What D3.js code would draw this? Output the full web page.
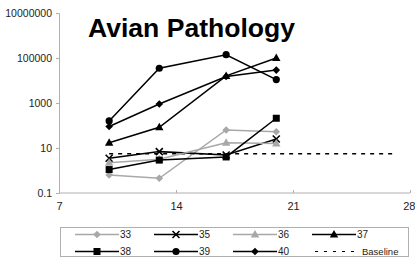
<!DOCTYPE html>
<html><head><meta charset="utf-8">
<script src="https://cdn.jsdelivr.net/npm/d3@7"></script>
<style>body{margin:0;background:#fff}svg{display:block}text{font-family:Arial,"Liberation Sans",sans-serif}</style>
</head><body>
<svg id="c" width="415" height="258"></svg>
<script>
const days = [10, 13, 17, 20];
const s33 = [0.63, 0.45, 63, 53];
const s35 = [3.5, 6.9, 4.9, 25];
const s36 = [2.2, 3.2, 17, 16];
const s37 = [17, 83, 16000, 100000];
const s38 = [1.1, 2.9, 4, 210];
const s39 = [160, 35000, 140000, 11000];
const s40 = [90, 900, 15000, 29000];
const baselineX = [10, 27];
const baselineY = [5.5, 5.5];
const xTicks = [7, 14, 21, 28];
const yTicks = [0.1, 10, 1000, 100000, 10000000];
const yTickLabels = ["0.1", "10", "1000", "100000", "10000000"];
const seriesNames = ["33", "35", "36", "37", "38", "39", "40"];
const title = "Avian Pathology";

const series = [
  {name:"33", vals:s33, color:"#a8a8a8", sym:"diamond"},
  {name:"35", vals:s35, color:"#000", sym:"x"},
  {name:"36", vals:s36, color:"#a8a8a8", sym:"triangle"},
  {name:"37", vals:s37, color:"#000", sym:"triangle"},
  {name:"38", vals:s38, color:"#000", sym:"square"},
  {name:"39", vals:s39, color:"#000", sym:"circle"},
  {name:"40", vals:s40, color:"#000", sym:"diamond"}
];

const svg = d3.select("#c");
const x = d3.scaleLinear().domain([7, 28]).range([59, 410]);
const y = d3.scaleLog().domain([0.1, 10000000]).range([193, 13]);

// axes
const xAxis = svg.append("g").attr("transform","translate(0,193)")
  .call(d3.axisBottom(x).tickValues(xTicks).tickSize(-3).tickPadding(9).tickFormat(d3.format("d")));
const yAxis = svg.append("g").attr("transform","translate(59,0)")
  .call(d3.axisLeft(y).tickValues(yTicks).tickSize(3).tickPadding(4).tickFormat((d,i)=>yTickLabels[i]));
[xAxis,yAxis].forEach(a=>{
  a.selectAll("path,line").attr("stroke","#b0b0b0");
  a.selectAll("text").attr("font-size","10.5px").attr("fill","#222");
});
xAxis.select(".domain").attr("d","M59,0H410");
xAxis.selectAll("text").attr("dy","0.71em").attr("font-size","11px");
xAxis.selectAll(".tick").filter(d=>d===28).select("text").attr("text-anchor","end").attr("x",5);

// title
svg.append("text").attr("x",88).attr("y",37).attr("font-size","25px").attr("font-weight","bold").attr("fill","#000")
  .attr("textLength",207).attr("lengthAdjust","spacingAndGlyphs").text(title);

function drawSym(g, sym, cx, cy, color, scale){
  scale = scale||1;
  if(sym==="circle") g.append("circle").attr("cx",cx).attr("cy",cy).attr("r",3.6*scale).attr("fill",color);
  else if(sym==="square") g.append("rect").attr("x",cx-3.5*scale).attr("y",cy-3.5*scale).attr("width",7*scale).attr("height",7*scale).attr("fill",color);
  else if(sym==="diamond") g.append("path").attr("d",`M${cx},${cy-3.8*scale}L${cx+3.8*scale},${cy}L${cx},${cy+3.8*scale}L${cx-3.8*scale},${cy}Z`).attr("fill",color);
  else if(sym==="triangle") g.append("path").attr("d",`M${cx},${cy-4.5*scale}L${cx+4.2*scale},${cy+3*scale}L${cx-4.2*scale},${cy+3*scale}Z`).attr("fill",color);
  else if(sym==="x") g.append("path").attr("d",`M${cx-3.5*scale},${cy-3.5*scale}L${cx+3.5*scale},${cy+3.5*scale}M${cx+3.5*scale},${cy-3.5*scale}L${cx-3.5*scale},${cy+3.5*scale}`).attr("stroke",color).attr("stroke-width",1.6).attr("fill","none");
}

// baseline
svg.append("path").attr("d", d3.line().x(d=>x(d[0])).y(d=>y(d[1]))(baselineX.map((d,i)=>[d,baselineY[i]])))
  .attr("stroke","#000").attr("stroke-width",1.5).attr("stroke-dasharray","4,5").attr("fill","none");

const line = d3.line().x(d=>x(d[0])).y(d=>y(d[1]));
series.forEach(s=>{
  const g = svg.append("g");
  const pts = days.map((d,i)=>[d,s.vals[i]]);
  g.append("path").attr("d",line(pts)).attr("stroke",s.color).attr("stroke-width",1.5).attr("fill","none");
  pts.forEach(p=>drawSym(g, s.sym, x(p[0]), y(p[1]), s.color));
});

// legend
svg.append("rect").attr("x",60.5).attr("y",227.5).attr("width",348).attr("height",29).attr("fill","none").attr("stroke","#b0b0b0");
const legItems = series.map(s=>({name:s.name,color:s.color,sym:s.sym})).concat([{name:"Baseline",color:"#000",sym:"dash"}]);
legItems.forEach((it,i)=>{
  const col=i%4, row=Math.floor(i/4);
  const lx = 75 + col*79, ly = row===0?234.5:251.5;
  const g = svg.append("g");
  if(it.sym==="dash"){
    g.append("line").attr("x1",lx+3).attr("x2",lx+48).attr("y1",ly).attr("y2",ly).attr("stroke","#000").attr("stroke-width",1.2).attr("stroke-dasharray","3,6");
    g.append("text").attr("x",lx+50).attr("y",ly+3.5).attr("font-size","9.5px").attr("fill","#222").text(it.name);
  } else {
    g.append("line").attr("x1",lx).attr("x2",lx+44).attr("y1",ly).attr("y2",ly).attr("stroke",it.color).attr("stroke-width",1.5);
    drawSym(g,it.sym,lx+22,ly,it.color,1);
    g.append("text").attr("x",lx+45).attr("y",ly+3.5).attr("font-size","10px").attr("fill","#222").text(it.name);
  }
});
</script>
</body></html>
